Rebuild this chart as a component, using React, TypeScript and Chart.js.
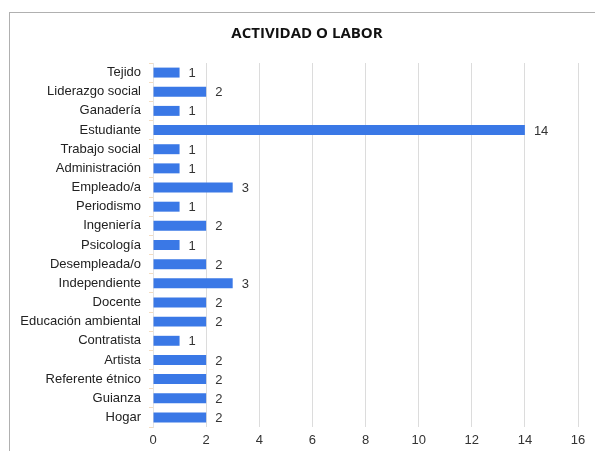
import React, { useEffect, useRef } from "react";
import { Chart, registerables } from "chart.js";

Chart.register(...registerables);

const categories = [
  "Tejido",
  "Liderazgo social",
  "Ganadería",
  "Estudiante",
  "Trabajo social",
  "Administración",
  "Empleado/a",
  "Periodismo",
  "Ingeniería",
  "Psicología",
  "Desempleada/o",
  "Independiente",
  "Docente",
  "Educación ambiental",
  "Contratista",
  "Artista",
  "Referente étnico",
  "Guianza",
  "Hogar",
];

const values = [1, 2, 1, 14, 1, 1, 3, 1, 2, 1, 2, 3, 2, 2, 1, 2, 2, 2, 2];

const title = "ACTIVIDAD O LABOR";
const xMax = 16;
const xStep = 2;

const FONT = "'Liberation Sans', Arial, sans-serif";

const valueLabels = {
  id: "valueLabels",
  afterDatasetsDraw(chart: any) {
    const ctx = chart.ctx;
    const meta = chart.getDatasetMeta(0);
    ctx.save();
    ctx.font = "13px " + FONT;
    ctx.fillStyle = "#333333";
    ctx.textAlign = "left";
    ctx.textBaseline = "middle";
    meta.data.forEach((bar: any, i: number) => {
      ctx.fillText(String(values[i]), bar.x + 9, bar.y + 1);
    });
    ctx.restore();
  },
};

const titlePlugin = {
  id: "customTitle",
  afterDraw(chart: any) {
    const ctx = chart.ctx;
    ctx.save();
    ctx.font = "bold 15px 'Open Sans', Arial, sans-serif";
    ctx.fillStyle = "#111111";
    ctx.textAlign = "center";
    ctx.textBaseline = "middle";
    ctx.fillText(title, 307, 34);
    ctx.restore();
  },
};

export default function App() {
  const ref = useRef<HTMLCanvasElement | null>(null);

  useEffect(() => {
    document.body.style.margin = "0";
    if (!ref.current) return;
    const chart = new Chart(ref.current, {
      type: "bar",
      data: {
        labels: categories,
        datasets: [
          {
            data: values,
            backgroundColor: "#3a78e6",
            borderWidth: 0,
            barPercentage: 0.52,
            categoryPercentage: 1,
          },
        ],
      },
      plugins: [valueLabels, titlePlugin],
      options: {
        indexAxis: "y",
        animation: false,
        responsive: false,
        maintainAspectRatio: false,
        layout: { padding: { left: 0, right: 17, top: 63, bottom: 0 } },
        plugins: {
          legend: { display: false },
          tooltip: { enabled: false },
          title: { display: false },
        },
        scales: {
          x: {
            min: 0,
            max: xMax,
            ticks: {
              stepSize: xStep,
              color: "#333333",
              padding: 6,
              font: { family: FONT, size: 13 },
            },
            grid: { color: "#dcdcdc", drawTicks: false, lineWidth: 1 },
            border: { display: false },
            afterFit(scale: any) {
              scale.height = 24;
            },
          },
          y: {
            ticks: {
              color: "#222222",
              padding: 8,
              font: { family: FONT, size: 13 },
              autoSkip: false,
            },
            grid: {
              display: true,
              drawOnChartArea: false,
              drawTicks: true,
              tickLength: 4,
              color: "#f3dcc0",
              offset: true,
            },
            border: { display: true, color: "#e4e4e4" },
            afterFit(scale: any) {
              scale.width = 153;
            },
          },
        },
      },
    });
    return () => chart.destroy();
  }, []);

  return (
    <div
      style={{
        position: "fixed",
        left: 0,
        top: 0,
        width: 595,
        height: 451,
        background: "#ffffff",
        overflow: "hidden",
      }}
    >
      <div
        style={{
          position: "absolute",
          left: 9,
          top: 12,
          width: 620,
          height: 460,
          borderLeft: "1px solid #b0b0b0",
          borderTop: "1px solid #b0b0b0",
        }}
      />
      <canvas
        ref={ref}
        width={595}
        height={451}
        style={{ position: "absolute", left: 0, top: 0, width: 595, height: 451 }}
      />
    </div>
  );
}
